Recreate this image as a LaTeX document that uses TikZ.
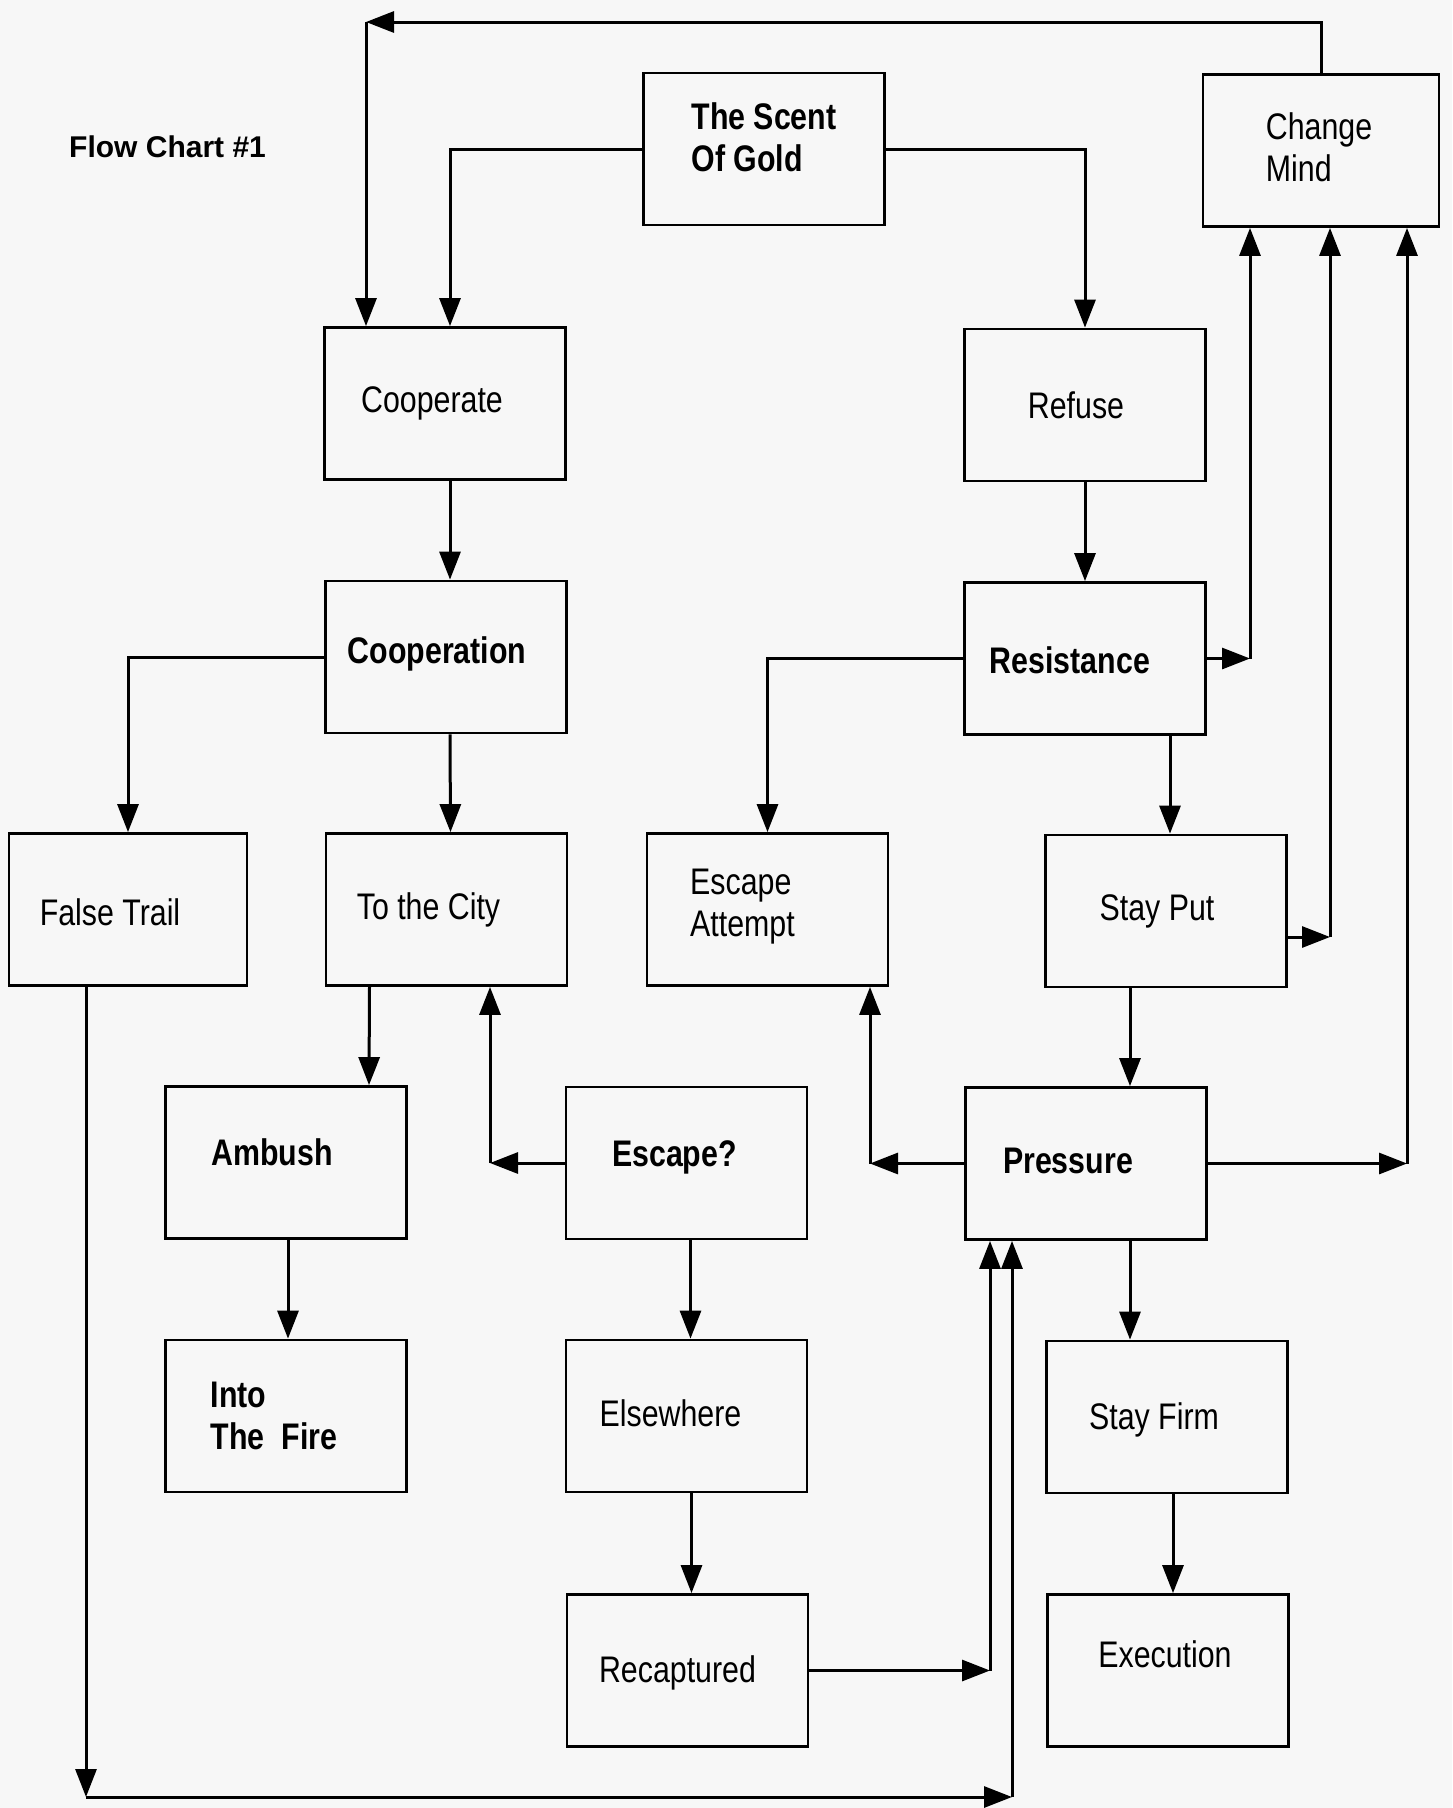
\documentclass[tikz,border=0pt]{standalone}
\usepackage{fontspec}
\setmainfont[FakeStretch=0.82]{Liberation Sans}
\newfontfamily\titlefont{Liberation Sans}
\usetikzlibrary{arrows.meta,calc}
\begin{document}
\begin{tikzpicture}[x=1pt,y=-1pt,
  box/.style={draw, line width=2.8pt, minimum width=241pt, minimum height=152pt, inner sep=0pt},
  lbl/.style={font=\fontsize{37}{42}\selectfont, align=left, inner sep=0pt},
  blbl/.style={font=\fontsize{37}{42}\selectfont\bfseries, align=left, inner sep=0pt},
  conn/.style={line width=3pt, -{Triangle[length=28pt,width=21pt]}},
]
\fill[black!3] (0,0) rectangle (1452,1808);
\useasboundingbox (0,0) rectangle (1452,1808);

\node[font=\titlefont\bfseries\fontsize{30}{34}\selectfont, anchor=west, inner sep=0pt] (title) at (69,147) {Flow Chart \#1};

% boxes
\node[box, label={[blbl, yshift=12pt]center:{The Scent\\Of Gold}}] (scent) at (764,149) {};
\node[box, minimum width=236pt, label={[lbl, xshift=-2pt, yshift=3pt]center:{Change\\Mind}}] (change) at (1321,150.5) {};
\node[box, label={[lbl, xshift=-13pt]center:Cooperate}] (coop) at (445,403.5) {};
\node[box, label={[lbl, xshift=-9pt]center:Refuse}] (refuse) at (1085,405) {};
\node[box, label={[blbl, xshift=-9pt, yshift=3pt]center:Cooperation}] (cooperation) at (446,657) {};
\node[box, label={[blbl, xshift=-15pt, yshift=-2pt]center:Resistance}] (resistance) at (1085,658.5) {};
\node[box, minimum width=238pt, label={[lbl, xshift=-18pt, yshift=-3pt]center:False Trail}] (false) at (128,909.5) {};
\node[box, label={[lbl, xshift=-18pt]center:To the City}] (city) at (446.5,909.5) {};
\node[box, label={[lbl, xshift=-25pt, yshift=3pt]center:{Escape\\Attempt}}] (escatt) at (767.5,909.5) {};
\node[box, label={[lbl, xshift=-9pt]center:Stay Put}] (stayput) at (1166,911) {};
\node[box, label={[blbl, xshift=-14pt, yshift=10pt]center:Ambush}] (ambush) at (286,1162.5) {};
\node[box, label={[blbl, xshift=-12pt, yshift=6pt]center:Escape?}] (escape) at (686.5,1163) {};
\node[box, label={[blbl, xshift=-18pt, yshift=3pt]center:Pressure}] (pressure) at (1086,1163.5) {};
\node[box, label={[blbl, xshift=-12pt]center:{Into\\The\ \ Fire}}] (fire) at (286,1416) {};
\node[box, label={[lbl, xshift=-16pt, yshift=3pt]center:Elsewhere}] (elsewhere) at (686.5,1416) {};
\node[box, label={[lbl, xshift=-13pt, yshift=-3pt]center:Stay Firm}] (stayfirm) at (1167,1417) {};
\node[box, label={[lbl, xshift=-10pt, yshift=-2pt]center:Recaptured}] (recap) at (687.5,1670.5) {};
\node[box, label={[lbl, xshift=-3pt, yshift=16pt]center:Execution}] (execution) at (1168,1670.5) {};

% corner coordinates
\coordinate (tl) at (366,22);
\coordinate (c1) at (1250,658.5);
\coordinate (c2) at (1330,937);
\coordinate (c3) at (1407,1163.5);
\coordinate (c4) at (870,1163.5);
\coordinate (c5) at (490,1163);
\coordinate (c6) at (990,1670.5);
\coordinate (c7) at (86,1797);
\coordinate (c8) at (1012,1797);

% connectors
\draw[conn] (change.north) |- (tl);
\draw[conn] (tl) -- (tl |- coop.north);
\draw[conn] (scent.west) -| ([xshift=5pt]coop.north);
\draw[conn] (scent.east) -| (refuse.north);
\draw[conn] ([xshift=5pt]coop.south) -- ([xshift=4pt]cooperation.north);
\draw[conn] (refuse.south) -- (resistance.north);
\draw[conn] (cooperation.west) -| (false.north);
\draw[conn] ([xshift=4pt]cooperation.south) -- ([xshift=4pt]city.north);
\draw[conn] (resistance.west) -| (escatt.north);
\draw[conn] (resistance.east) -- (c1);
\draw[conn] (c1) -- (c1 |- change.south);
\draw[conn] ([xshift=85pt]resistance.south) -- ([xshift=4pt]stayput.north);
\draw[conn] ([yshift=-26pt]stayput.east) -- (c2);
\draw[conn] (c2) -- (c2 |- change.south);
\draw[conn] ([xshift=-36pt]stayput.south) -- ([xshift=44pt]pressure.north);
\draw[conn] (pressure.east) -- (c3);
\draw[conn] (c3) -- (c3 |- change.south);
\draw[conn] (pressure.west) -- (c4);
\draw[conn] (c4) -- (c4 |- escatt.south);
\draw[conn] ([xshift=44pt]pressure.south) -- ([xshift=-37pt]stayfirm.north);
\draw[conn] ([xshift=6pt]stayfirm.south) -- ([xshift=5pt]execution.north);
\draw[conn] ([xshift=-77pt]city.south) -- ([xshift=83pt]ambush.north);
\draw[conn] (escape.west) -- (c5);
\draw[conn] (c5) -- (c5 |- city.south);
\draw[conn] ([xshift=4pt]escape.south) -- ([xshift=4pt]elsewhere.north);
\draw[conn] ([xshift=2pt]ambush.south) -- ([xshift=2pt]fire.north);
\draw[conn] ([xshift=5pt]elsewhere.south) -- ([xshift=4pt]recap.north);
\draw[conn] (recap.east) -- (c6);
\draw[conn] (c6) -- (c6 |- pressure.south);
\draw[conn] ([xshift=-42pt]false.south) -- (c7);
\draw[conn] (c7) -- (c8);
\draw[conn] (c8) -- (c8 |- pressure.south);
\end{tikzpicture}
\end{document}
